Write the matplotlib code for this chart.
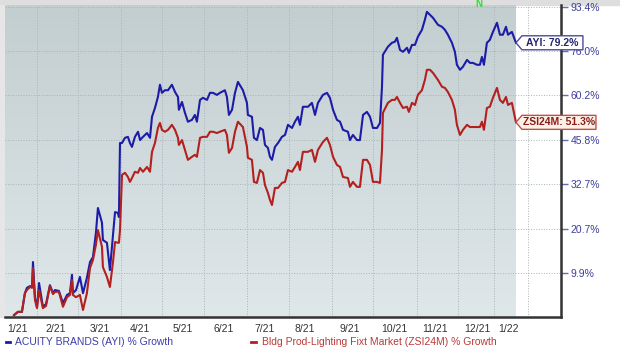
import matplotlib
matplotlib.use('Agg')
import matplotlib.pyplot as plt
import numpy as np
from matplotlib.lines import Line2D
from matplotlib.patches import Polygon, Rectangle
from matplotlib.ticker import NullLocator
from matplotlib.transforms import IdentityTransform

# days since 2021-01-01
days = [-2.2, 0.7, 3.7, 5.9, 7.4, 9.7, 11.2, 11.9, 13.4, 14.9,
        16.4, 19.3, 21.6, 24.5, 26.8, 28.3, 31.2, 34.2, 37.2, 39.4,
        40.9, 41.6, 43.9, 46.8, 49.1, 52.0, 54.3, 56.5, 58.7, 60.2,
        63.2, 63.9, 66.9, 69.1, 71.4, 72.9, 75.1, 75.8, 76.6, 78.1,
        80.3, 82.5, 84.0, 85.5, 87.7, 90.0, 91.5, 93.7, 96.7, 98.9,
        100.4, 102.6, 104.8, 106.3, 107.8, 110.0, 112.3, 115.2, 117.5, 119.7,
        120.4, 122.7, 124.9, 127.1, 130.1, 132.3, 133.8, 136.1, 138.3, 141.3,
        143.5, 145.7, 148.7, 150.9, 154.6, 156.1, 157.6, 159.9, 162.1, 164.3,
        168.0, 171.0, 171.7, 174.7, 176.2, 178.4, 180.7, 182.9, 184.4, 186.6,
        188.1, 189.6, 191.8, 194.1, 197.0, 199.3, 201.5, 204.5, 206.7, 208.9,
        210.4, 212.6, 216.4, 219.3, 221.6, 223.8, 227.5, 230.5, 232.7, 235.0,
        237.9, 240.2, 242.4, 246.1, 247.6, 249.8, 252.8, 255.0, 257.3, 260.2,
        262.5, 264.7, 267.7, 269.9, 271.4, 272.1, 275.8, 278.8, 281.0, 282.5,
        284.8, 287.0, 290.0, 291.4, 293.7, 295.9, 298.1, 301.1, 303.3, 304.8,
        307.1, 309.3, 313.0, 316.0, 318.2, 320.4, 323.4, 325.6, 327.1, 329.4,
        331.6, 334.6, 336.8, 339.0, 342.0, 344.2, 345.7, 347.2, 349.4, 351.6,
        353.9, 356.9, 359.1, 361.3, 363.6, 365.1, 368.0, 371.0]

# % growth, Acuity Brands
ayi = [0.4, 1.1, 1.1, 5.2, 6.4, 6.8, 6.6, 12.4, 4.1, 2.2,
       7.5, 2.2, 2.8, 7.0, 5.2, 5.9, 5.7, 3.0, 4.8, 5.2,
       9.4, 5.2, 5.9, 8.9, 5.2, 8.7, 12.4, 13.6, 19.6, 26.1,
       22.2, 17.8, 17.1, 10.5, 19.1, 25.0, 24.8, 23.7, 44.8, 44.8,
       46.4, 46.7, 44.8, 43.6, 46.7, 48.3, 45.7, 46.7, 47.9, 46.4,
       53.1, 56.0, 59.7, 63.9, 61.1, 62.0, 62.0, 63.9, 61.4, 59.7,
       55.4, 58.0, 54.4, 51.5, 52.1, 53.7, 51.5, 58.7, 59.4, 58.7,
       61.1, 61.1, 60.4, 61.1, 62.0, 59.7, 53.7, 55.4, 61.1, 64.9,
       62.0, 57.7, 53.7, 53.1, 46.4, 45.7, 49.5, 48.9, 44.2, 43.3,
       40.6, 39.7, 43.6, 44.8, 46.7, 47.3, 50.5, 49.5, 51.5, 53.1,
       50.5, 56.4, 56.4, 57.7, 53.7, 57.7, 60.4, 61.1, 59.4, 55.4,
       52.1, 51.5, 48.9, 48.3, 45.7, 47.3, 45.7, 45.7, 53.7, 54.7,
       53.1, 49.5, 49.5, 51.1, 63.2, 74.7, 77.7, 79.2, 79.6, 81.1,
       76.5, 75.8, 77.3, 75.4, 78.4, 78.4, 81.5, 84.2, 88.2, 91.4,
       90.2, 89.0, 86.2, 85.4, 84.2, 82.3, 79.2, 75.8, 71.0, 69.2,
       70.3, 72.8, 71.7, 71.7, 71.0, 71.0, 73.9, 71.0, 79.2, 80.3,
       83.4, 87.0, 82.3, 82.3, 85.4, 82.3, 83.4, 79.2]

# % growth, Bldg Prod-Lighting Fixt Market
zsi = [0.4, 1.1, 1.1, 5.2, 5.9, 6.6, 6.4, 11.0, 3.7, 1.9,
       5.9, 1.9, 2.4, 6.8, 5.0, 5.5, 5.5, 2.2, 4.3, 4.8,
       8.2, 4.8, 4.3, 4.8, 1.5, 5.2, 11.0, 12.9, 16.6, 20.3,
       16.1, 11.2, 8.9, 6.6, 12.4, 17.3, 17.1, 17.1, 20.3, 35.3,
       35.9, 34.7, 33.3, 34.4, 36.2, 35.9, 37.3, 36.2, 37.6, 36.2,
       42.1, 44.8, 49.5, 51.1, 48.9, 48.3, 48.9, 50.5, 48.9, 46.4,
       44.2, 45.7, 42.7, 39.7, 40.6, 41.2, 40.6, 46.4, 46.7, 46.7,
       48.3, 48.3, 47.9, 48.3, 48.9, 47.3, 41.8, 43.3, 48.3, 51.5,
       49.8, 43.6, 40.3, 39.7, 33.3, 33.0, 36.7, 35.9, 32.4, 30.2,
       28.3, 26.9, 31.6, 31.6, 33.0, 33.3, 36.7, 36.2, 37.6, 39.1,
       36.7, 42.1, 42.1, 42.7, 39.1, 42.7, 45.1, 46.4, 44.2, 40.6,
       38.2, 37.6, 34.7, 34.4, 31.9, 33.3, 31.9, 31.9, 39.7, 39.7,
       38.2, 33.3, 33.3, 33.0, 42.7, 54.4, 57.7, 58.7, 58.7, 59.7,
       57.7, 56.0, 56.4, 54.7, 57.7, 57.0, 60.4, 62.0, 65.6, 69.2,
       69.2, 68.1, 65.6, 63.2, 62.8, 61.4, 58.7, 55.4, 50.5, 47.3,
       48.9, 50.5, 49.8, 49.8, 49.8, 49.8, 51.5, 48.9, 56.0, 56.4,
       59.4, 62.8, 58.7, 57.7, 59.7, 57.0, 57.7, 51.3]

month_labels = ['1/21', '2/21', '3/21', '4/21', '5/21', '6/21', '7/21',
                '8/21', '9/21', '10/21', '11/21', '12/21', '1/22']
month_pos = [0, 28.6, 61.7, 91.2, 123.2, 153.7, 184.2, 214.1, 247.8,
             280.5, 311.0, 342.0, 365.1]
grid_days = [14.9, 45.4, 77.3, 107.8, 139.0, 171.0, 202.2, 234.2, 264.7,
             297.4, 327.9, 354.7, 379.9]
y_ticks = [9.9, 20.7, 32.7, 45.8, 60.2, 76.0, 93.4]

BLUE = '#1c1ca8'
RED = '#b3201e'
W, H = 620, 354


def box(x0, y0, x1, y1):
    # pixel box (top-left origin) -> figure fraction
    return [x0 / W, 1 - y1 / H, (x1 - x0) / W, (y1 - y0) / H]


fig = plt.figure(figsize=(6.2, 3.54), dpi=100)
fig.patch.set_facecolor('white')
fig.add_artist(Rectangle((0, 1 - 5 / H), 1, 5 / H, transform=fig.transFigure,
                         color='#dedede', zorder=-2))
fig.add_artist(Rectangle((0, 1 - 317 / H), 5 / W, 312 / H, transform=fig.transFigure,
                         color='#e6e6e6', zorder=-2))

xmin, xmax = -8.9, 404.5

# gradient panel behind the lines
bg = fig.add_axes(box(5, 5, 561, 317))
bg.set_zorder(-1)
top = np.array([0xc3, 0xce, 0xd1]) / 255
bot = np.array([0xdf, 0xe7, 0xe9]) / 255
t = np.linspace(0, 1, 200)[:, None, None]
grad = top + (bot - top) * t
shade = (days[-1] - xmin) / (xmax - xmin)
bg.imshow(grad, extent=[0, shade, 0, 1], aspect='auto', origin='upper')
bg.set_xlim(0, 1)
bg.set_ylim(0, 1)
bg.axis('off')

ax = fig.add_axes(box(5, 5, 561, 317))
ax.set_facecolor('none')
ax.set_yscale('log')
ax.plot(days, 1 + np.array(ayi) / 100, color=BLUE, lw=1.5, zorder=3)
ax.plot(days, 1 + np.array(zsi) / 100, color=RED, lw=1.5, zorder=3)
ax.set_xlim(xmin, xmax)
ax.set_ylim(1.0, 1.942)

ax.yaxis.tick_right()
ax.set_yticks([1 + v / 100 for v in y_ticks], [f'{v:.1f}%' for v in y_ticks])
ax.yaxis.set_minor_locator(NullLocator())
ax.tick_params(axis='y', direction='out', length=5, width=1, color='#6a6ab0',
               labelcolor='#3c3c9c', labelsize=7.5, pad=2)
ax.set_xticks(month_pos, month_labels)
ax.tick_params(axis='x', length=0, labelcolor='#333333', labelsize=7.5, pad=5)
for lab in ax.get_xticklabels() + ax.get_yticklabels():
    lab.set_fontfamily('Liberation Sans')

ax.grid(axis='y', ls=':', color='#a9b3b7', lw=0.7)
for d in grid_days:
    ax.axvline(d, ls=':', color='#a9b3b7', lw=0.7, zorder=1)

for s in ['left', 'top']:
    ax.spines[s].set_visible(False)
for s in ['right', 'bottom']:
    ax.spines[s].set_color('#333333')
    ax.spines[s].set_linewidth(1.8)

# end-of-line value tags
tags = [(ayi[-1], f'AYI: {ayi[-1]:.1f}%', 67, 'white', '#4b4b9b', '#26266e'),
        (zsi[-1], f'ZSI24M: {zsi[-1]:.1f}%', 80, '#fdf1e7', '#c0504d', '#8a1c1a')]
for val, txt, wd, fc, ec, tc in tags:
    tx, ty = ax.transData.transform((days[-1], 1 + val / 100))
    verts = [(tx, ty), (tx + 6, ty + 7), (tx + wd, ty + 7), (tx + wd, ty - 7), (tx + 6, ty - 7)]
    fig.add_artist(Polygon(verts, closed=True, transform=IdentityTransform(),
                           facecolor=fc, edgecolor=ec, lw=1, zorder=5))
    fig.text(tx + 3 + wd / 2, ty, txt, transform=IdentityTransform(), ha='center',
             va='center', fontsize=7.5, fontweight='bold', color=tc,
             family='Liberation Sans', zorder=6)

fig.text(479 / W, 1 - 4 / H, 'N', color='#33dd33', fontsize=7, fontweight='bold',
         ha='center', va='center', family='Liberation Sans')

# legend
ly = 1 - 342 / H
fig.add_artist(Line2D([6 / W, 10 / W], [ly, ly], color=BLUE, lw=2))
fig.text(15 / W, ly, 'ACUITY BRANDS (AYI) % Growth', color='#3d3da8', fontsize=7.5,
         va='center', family='Liberation Sans')
fig.add_artist(Line2D([251 / W, 256 / W], [ly, ly], color=RED, lw=2))
fig.text(262 / W, ly, 'Bldg Prod-Lighting Fixt Market (ZSI24M) % Growth', color='#b83a3a',
         fontsize=7.5, va='center', family='Liberation Sans')

fig.savefig('out.png', dpi=100)
